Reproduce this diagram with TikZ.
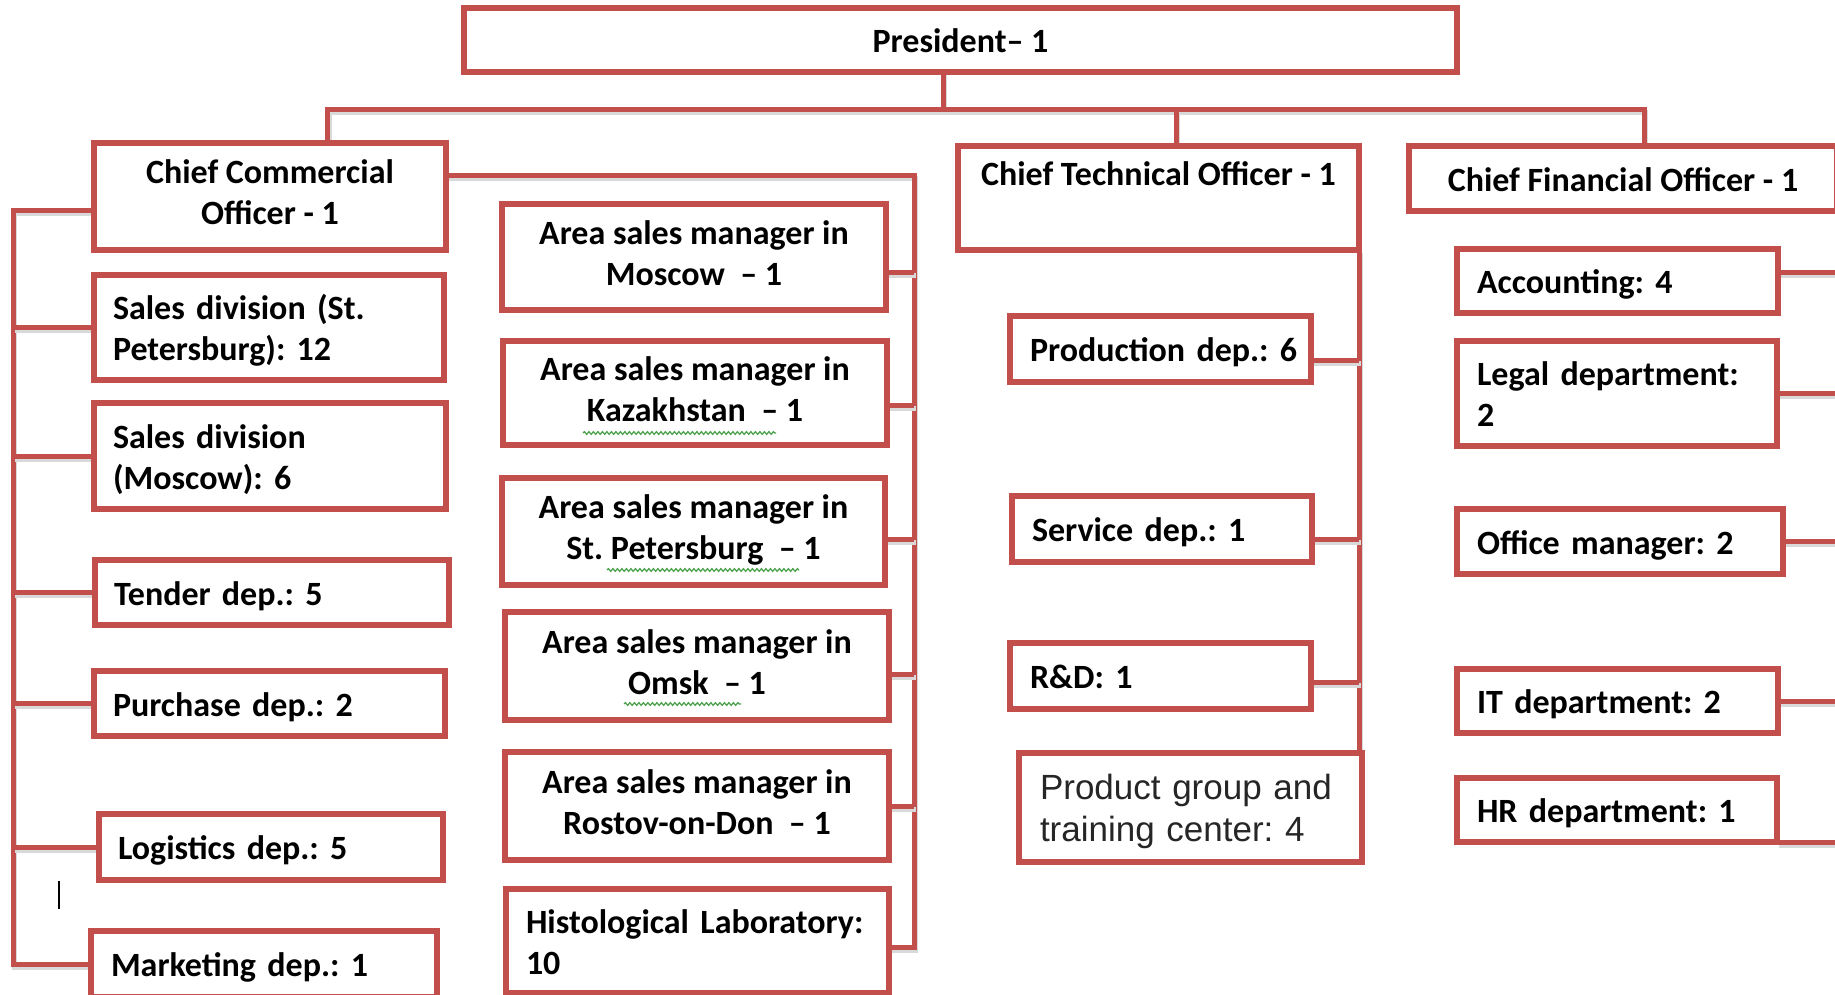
\documentclass[tikz,border=0pt]{standalone}
\usepackage{fontspec}
\setmainfont{Carlito}
\newfontfamily\arialfont{Liberation Sans}
\usetikzlibrary{decorations.pathmorphing}
\definecolor{bred}{HTML}{C24F4C}
\definecolor{squig}{HTML}{4EA24E}
\pgfdeclarelayer{paper}
\pgfdeclarelayer{wires}
\pgfsetlayers{paper,wires,main}
\newcommand\lowstrut{\rule[-8pt]{0pt}{41pt}}
\frenchspacing
\begin{document}
\begin{tikzpicture}[x=1pt,y=-1pt,
  box/.style={draw=bred, line width=5.2pt, fill=white, inner sep=0pt, outer sep=0pt,
    anchor=north west, font=\fontsize{34}{41}\selectfont\bfseries,
    execute at begin node=\lowstrut, execute at end node=\lowstrut},
  cbox/.style={box, align=center},
  lbox/.style={box, align=left},
  conn/.style={draw=bred, line width=5pt, line join=miter,
    preaction={draw=black!15, line width=5pt, transform canvas={shift={(1.5pt,-3pt)}}}},
  spell/.style={draw=squig, line width=1.3pt, decorate,
    decoration={snake, amplitude=1.3pt, segment length=4.5pt}}]
\useasboundingbox (0,0) rectangle (1835,994);
\begin{pgfonlayer}{paper}
\fill[white] (0,0) rectangle (1835,994);
\end{pgfonlayer}

% top level
\node[cbox, minimum width=993, minimum height=64] (pres) at (464,8) {President– 1};
\node[cbox, minimum width=352, minimum height=107] (cco) at (94,143) {Chief Commercial\\Officer - 1};
\node[cbox, minimum width=401, minimum height=104] (cto) at (958,146) {Chief Technical Officer - 1\\~};
\node[cbox, minimum width=428, minimum height=65] (cfo) at (1409,146) {Chief Financial Officer - 1};

% commercial, left column
\node[lbox, minimum width=350, minimum height=105, text width=312] (spb) at (94,275) {Sales~division~(St.\\Petersburg):~12};
\node[lbox, minimum width=352, minimum height=106, text width=314] (smo) at (94,403) {Sales~division\\(Moscow):~6};
\node[lbox, minimum width=354, minimum height=65, text width=316] (ten) at (95,560) {Tender~dep.:~5};
\node[lbox, minimum width=351, minimum height=65, text width=313] (pur) at (94,671) {Purchase~dep.:~2};
\node[lbox, minimum width=344, minimum height=66, text width=306] (log) at (99,814) {Logistics~dep.:~5};
\node[lbox, minimum width=346, minimum height=66, text width=306] (mkt) at (91,931) {Marketing~dep.:~1};

% commercial, area managers
\node[cbox, minimum width=384, minimum height=106] (asm) at (502,204) {Area sales manager in\\Moscow~ – 1};
\node[cbox, minimum width=384, minimum height=104] (akz) at (503,341) {Area sales manager in\\Kazakhstan~ – 1};
\node[cbox, minimum width=383, minimum height=107] (asp) at (502,478) {Area sales manager in\\St. Petersburg~ – 1};
\node[cbox, minimum width=384, minimum height=108] (aom) at (505,612) {Area sales manager in\\Omsk~ – 1};
\node[cbox, minimum width=384, minimum height=108] (aro) at (505,752) {Area sales manager in\\Rostov-on-Don~ – 1};
\node[lbox, minimum width=383, minimum height=104, text width=343] (hist) at (506,889) {Histological~Laboratory:\\10};

% technical
\node[lbox, minimum width=301, minimum height=66, text width=261] (prod) at (1010,316) {Production~dep.:~6};
\node[lbox, minimum width=300, minimum height=66, text width=260] (serv) at (1012,496) {Service~dep.:~1};
\node[lbox, minimum width=301, minimum height=66, text width=261] (rnd) at (1010,643) {R\&D:~1};
\node[lbox, minimum width=343, minimum height=109, text width=301,
  font=\arialfont\fontsize{35}{42}\selectfont, text=black!85] (pg) at (1019,753) {Product~group~and\\training~center:~4};

% financial
\node[lbox, minimum width=321, minimum height=64, text width=281] (acc) at (1457,249) {Accounting:~4};
\node[lbox, minimum width=320, minimum height=105, text width=280] (leg) at (1457,341) {Legal~department:\\2};
\node[lbox, minimum width=326, minimum height=65, text width=286] (off) at (1457,509) {Office~manager:~2};
\node[lbox, minimum width=321, minimum height=64, text width=281] (it) at (1457,669) {IT~department:~2};
\node[lbox, minimum width=320, minimum height=64, text width=280] (hr) at (1457,778) {HR~department:~1};

% spell-check marks and cursor
\draw[spell] (583,433) -- (776,433);
\draw[spell] (607,570) -- (799,570);
\draw[spell] (624,704) -- (741,704);
\draw[black, line width=2pt] (59,881) -- (59,909);

\begin{pgfonlayer}{wires}
\coordinate (stem) at (943,109);
\coordinate (busL) at (327.5,109);
\coordinate (ctod) at (1176,109);
\coordinate (busR) at (1644,109);
\draw[conn] (pres.south -| stem) -- (stem);
\draw[conn] (busL |- cco.north) -- (busL) -- (busR) -- (busR |- cfo.north);
\draw[conn] (ctod) -- (ctod |- cto.north);

% left bus of commercial
\coordinate (lb) at (13,210);
\draw[conn] (cco.west |- lb) -- (lb) |- (mkt.west);
\foreach \n in {spb,smo,ten,pur,log}
  \draw[conn] (\n.west) -- (\n.west -| lb);

% right bus of commercial
\coordinate (rb) at (914,175);
\draw[conn] (cco.east |- rb) -- (rb) |- ([yshift=-6pt]hist.east);
\draw[conn] ([yshift=-15pt]asm.east) -- ([yshift=-15pt]asm.east -| rb);
\draw[conn] ([yshift=-12pt]akz.east) -- ([yshift=-12pt]akz.east -| rb);
\draw[conn] ([yshift=-8pt]asp.east) -- ([yshift=-8pt]asp.east -| rb);
\draw[conn] ([yshift=-8pt]aom.east) -- ([yshift=-8pt]aom.east -| rb);
\draw[conn] (aro.east) -- (aro.east -| rb);

% technical bus
\draw[conn] (cto.south east) -- (cto.south east |- pg.north);
\draw[conn] ([yshift=-11pt]prod.east) -- ([yshift=-11pt]prod.east -| cto.east);
\draw[conn] ([yshift=-10pt]serv.east) -- ([yshift=-10pt]serv.east -| cto.east);
\draw[conn] ([yshift=-6pt]rnd.east) -- ([yshift=-6pt]rnd.east -| cto.east);

% financial bus
\coordinate (fb) at (1846,178);
\draw[conn] (cfo.east) -- (fb) -- (fb |- hr.south);
\draw[conn] ([yshift=9pt]acc.east) -- ([yshift=9pt]acc.east -| fb);
\draw[conn] (leg.east) -- (leg.east -| fb);
\draw[conn] (off.east) -- (off.east -| fb);
\draw[conn] (it.east) -- (it.east -| fb);
\draw[conn] (hr.south east) -- (hr.south east -| fb);
\end{pgfonlayer}
\end{tikzpicture}
\end{document}
